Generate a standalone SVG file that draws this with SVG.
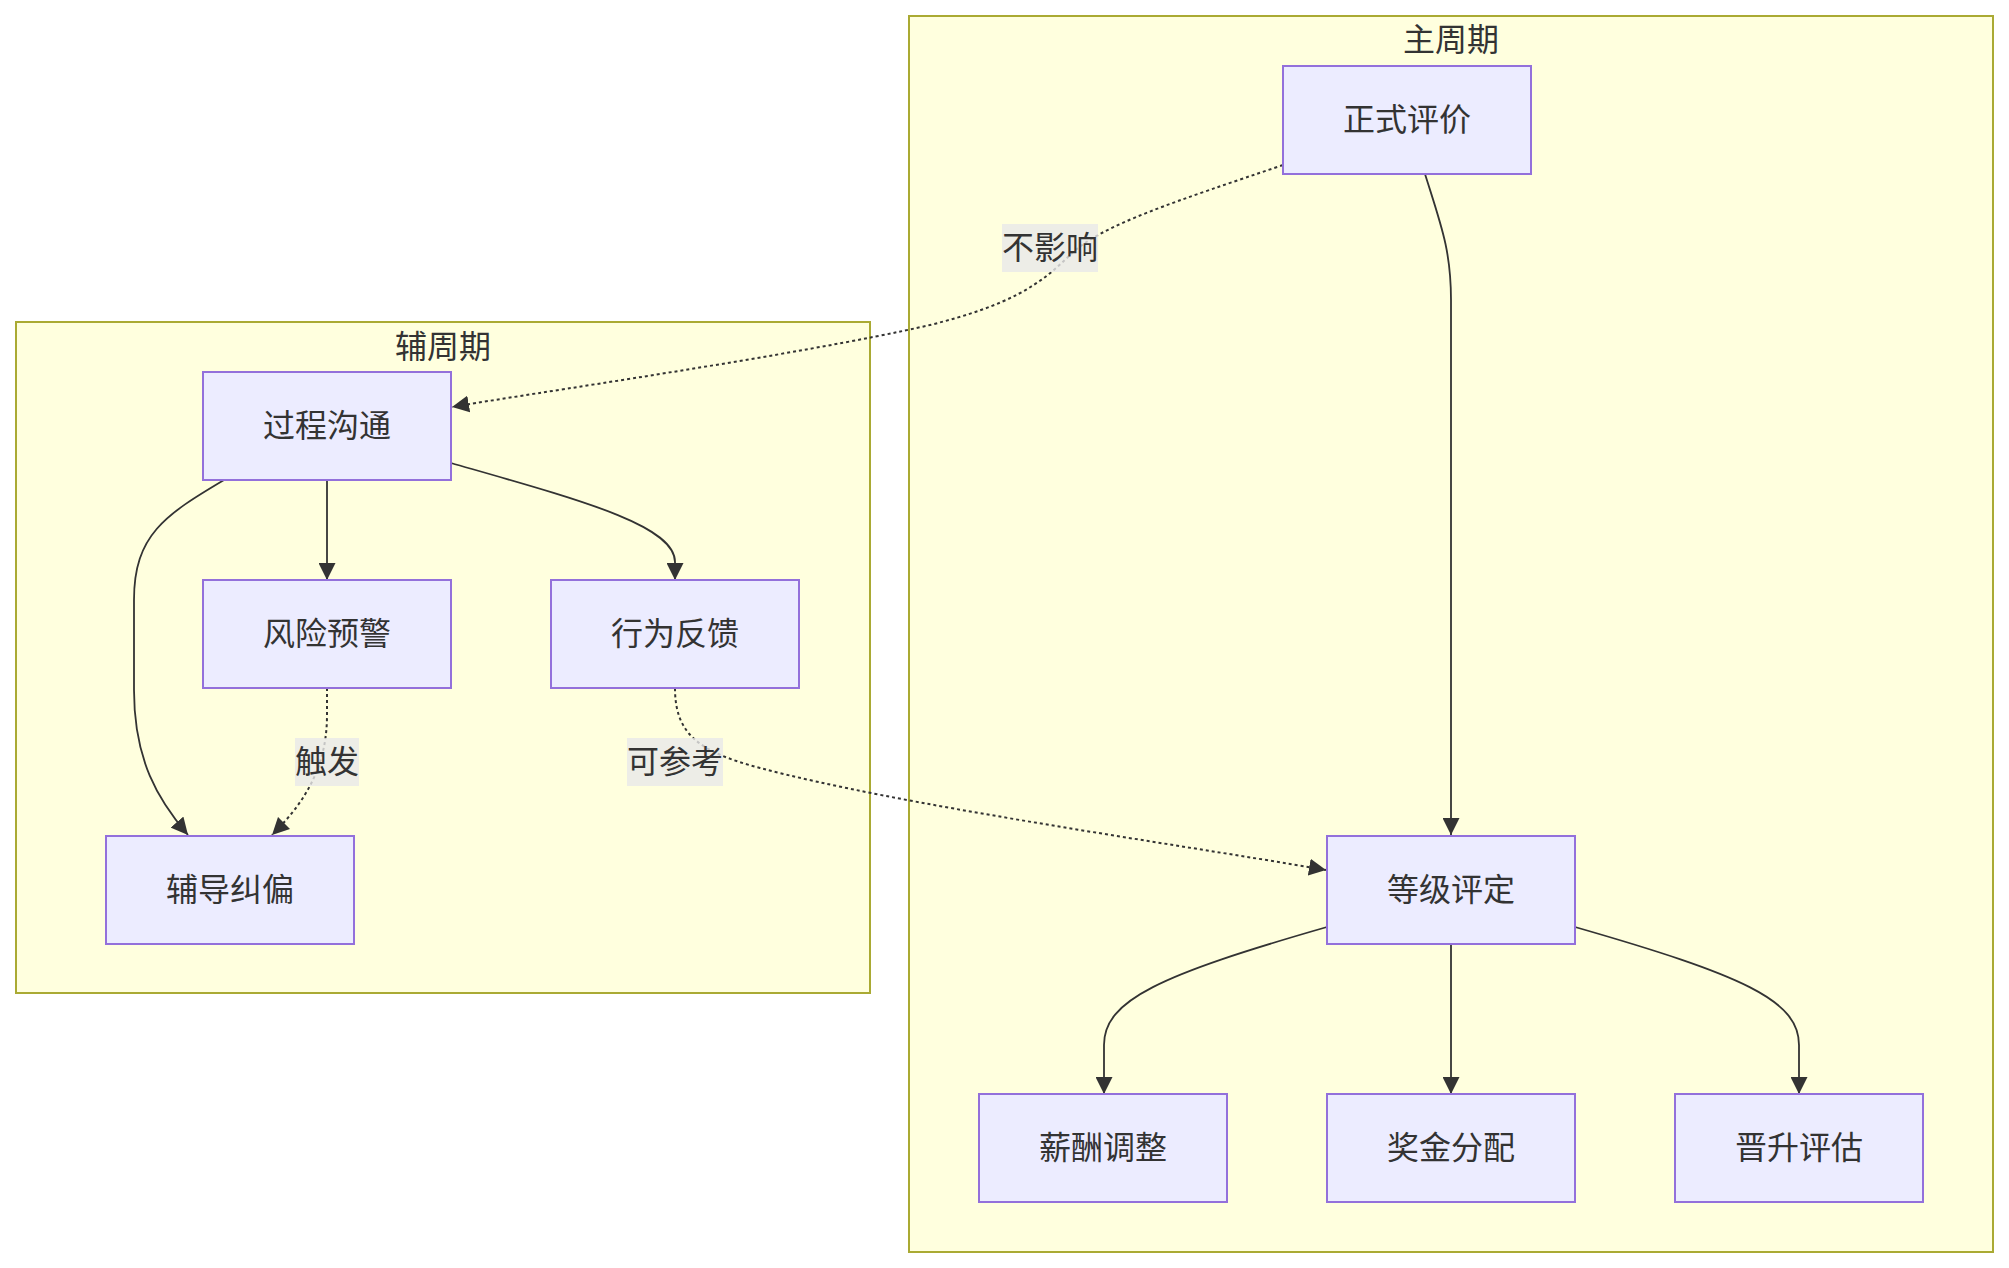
<svg xmlns="http://www.w3.org/2000/svg" width="2009" height="1268" viewBox="0 0 2009 1268">
<style>
.cluster rect{fill:#ffffde;stroke:#aaaa33;stroke-width:2}
.node rect{fill:#ececff;stroke:#9370db;stroke-width:2}
text{font-family:"Noto Sans CJK SC","Noto Sans",sans-serif;font-size:32px;fill:#333;text-anchor:middle;dominant-baseline:central}
.edge{fill:none;stroke:#333;stroke-width:1.8}
.dot{stroke-dasharray:3 3;stroke-width:2}
.lbl rect{fill:#e8e8e8;opacity:0.8}
</style>
<defs>
<marker id="arr" viewBox="0 0 10 10" refX="10" refY="5" markerUnits="userSpaceOnUse" markerWidth="17" markerHeight="17" orient="auto">
<path d="M0,0 L10,5 L0,10 z" fill="#333"/>
</marker>
</defs>
<g id="cluster-main" class="cluster"><rect x="909" y="16" width="1084" height="1236"/><text x="1451" y="37">主周期</text></g>
<g id="cluster-aux" class="cluster"><rect x="16" y="322" width="854" height="671"/><text x="443" y="344">辅周期</text></g>
<g id="edges">
<path class="edge" d="M1425,174 C1441,225 1451,250 1451,300 L1451,835" marker-end="url(#arr)"/>
<path class="edge dot" d="M1283,165 C1180,200 1100,225 1070,255 C1040,285 1010,305 930,325 C800,355 520,395 452,407" marker-end="url(#arr)"/>
<path class="edge" d="M327,480 L327,580" marker-end="url(#arr)"/>
<path class="edge" d="M451,463 C580,500 675,525 675,562 L675,580" marker-end="url(#arr)"/>
<path class="edge" d="M224,480 C165,515 134,535 134,600 L134,690 C134,760 158,800 188,835" marker-end="url(#arr)"/>
<path class="edge dot" d="M327,688 L327,715 C327,770 302,805 272,835" marker-end="url(#arr)"/>
<path class="edge dot" d="M675,688 C675,735 700,752 760,768 C900,805 1150,840 1326,870" marker-end="url(#arr)"/>
<path class="edge" d="M1327,927 C1160,975 1104,1000 1104,1045 L1104,1094" marker-end="url(#arr)"/>
<path class="edge" d="M1451,944 L1451,1094" marker-end="url(#arr)"/>
<path class="edge" d="M1575,927 C1742,975 1799,1000 1799,1045 L1799,1094" marker-end="url(#arr)"/>
<g class="lbl"><rect x="1002" y="224" width="96" height="48"/><text x="1050" y="245">不影响</text></g>
<g class="lbl"><rect x="295" y="738" width="64" height="48"/><text x="327" y="759">触发</text></g>
<g class="lbl"><rect x="627" y="738" width="96" height="48"/><text x="675" y="759">可参考</text></g>
</g>
<g id="n-zspj" class="node"><rect x="1283" y="66" width="248" height="108"/><text x="1407" y="117">正式评价</text></g>
<g id="n-gcgt" class="node"><rect x="203" y="372" width="248" height="108"/><text x="327" y="423">过程沟通</text></g>
<g id="n-fxyj" class="node"><rect x="203" y="580" width="248" height="108"/><text x="327" y="631">风险预警</text></g>
<g id="n-xwfk" class="node"><rect x="551" y="580" width="248" height="108"/><text x="675" y="631">行为反馈</text></g>
<g id="n-fdjp" class="node"><rect x="106" y="836" width="248" height="108"/><text x="230" y="887">辅导纠偏</text></g>
<g id="n-djpd" class="node"><rect x="1327" y="836" width="248" height="108"/><text x="1451" y="887">等级评定</text></g>
<g id="n-xctz" class="node"><rect x="979" y="1094" width="248" height="108"/><text x="1103" y="1145">薪酬调整</text></g>
<g id="n-jjfp" class="node"><rect x="1327" y="1094" width="248" height="108"/><text x="1451" y="1145">奖金分配</text></g>
<g id="n-sspg" class="node"><rect x="1675" y="1094" width="248" height="108"/><text x="1799" y="1145">晋升评估</text></g>
</svg>
